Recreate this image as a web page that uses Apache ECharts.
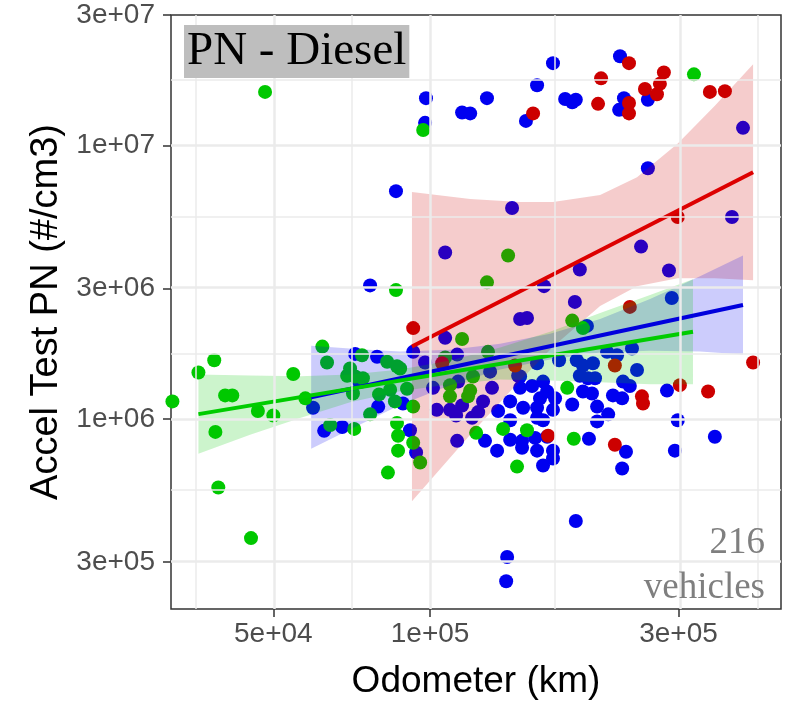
<!DOCTYPE html>
<html>
<head>
<meta charset="utf-8">
<script src="https://cdn.jsdelivr.net/npm/echarts@6/dist/echarts.min.js"></script>
<style>
  html, body { margin: 0; padding: 0; background: #fff; }
  #chart { width: 787px; height: 705px; }
</style>
</head>
<body>
<div id="chart"></div>
<script>
// odometer (km) and accel test PN (#/cm3)
const blueOdo = [98200, 115200, 119400, 97800, 86000, 106900, 76700, 128600, 172200, 160500, 152800, 181700, 187500, 190500,
  231600, 235700, 230700, 238700, 262000, 399000, 262000, 143700, 165500, 193900, 189700, 254200, 380000, 287600, 291200,
  148900, 153500, 200100, 249700, 234700, 241900, 224500, 233800, 285100, 299000, 352300, 295200, 237800, 233800, 209300,
  209300, 219800, 201900, 196600, 204600, 187500, 191300, 196600, 205500, 193900, 201000, 207400, 218700, 228600, 244200,
  176900, 160500, 147600, 148900, 157000, 164800, 167800, 162600, 173800, 142500, 150900, 160500, 172200, 135100, 142500,
  160500, 164800, 127500, 134500, 142500, 150200, 150200, 159100, 160500, 167800, 172200, 172200, 164800, 190500, 140600,
  140000, 106900, 92800, 97800, 112700, 101300, 113200, 88700, 130400, 131500, 126400, 148900, 91500, 94000, 112700,
  71800, 79100, 72800, 59600, 62600, 67800, 79500, 103000, 109200, 112200, 115200, 120400, 123700];
const bluePN = [1.49e7, 1.32e7, 1.31e7, 1.21e7, 6.81e6, 4.06e6, 3.08e6, 1.49e7, 2.00e7, 1.66e7, 1.23e7, 1.48e7, 1.44e7, 1.47e7,
  2.12e7, 1.49e7, 1.35e7, 1.34e7, 1.47e7, 1.16e7, 8.26e6, 5.91e6, 3.06e6, 3.52e6, 2.68e6, 4.27e6, 5.48e6, 3.49e6, 2.77e6,
  2.32e6, 2.34e6, 2.19e6, 1.51e6, 1.37e6, 1.32e6, 1.22e6, 1.19e6, 1.27e6, 9.9e5, 8.61e5, 7.66e5, 7.59e5, 6.59e5, 1.11e6,
  9.8e5, 1.04e6, 8.47e5, 1.26e6, 1.24e6, 1.13e6, 1.64e6, 1.57e6, 1.60e6, 1.44e6, 1.41e6, 1.41e6, 1.76e6, 1.71e6, 1.81e6,
  1.64e6, 1.60e6, 1.44e6, 1.30e6, 1.32e6, 1.37e6, 1.26e6, 1.19e6, 1.19e6, 1.16e6, 1.10e6, 1.10e6, 1.08e6, 1.07e6, 9.9e5,
  1.01e6, 9.9e5, 8.32e5, 7.66e5, 8.40e5, 8.32e5, 7.85e5, 8.53e5, 7.66e5, 8.61e5, 7.66e5, 7.17e5, 6.76e5, 4.24e5, 3.13e5,
  2.55e5, 1.98e6, 1.76e6, 1.61e6, 1.72e6, 1.30e6, 1.37e6, 1.14e6, 1.49e6, 1.30e6, 1.16e6, 1.43e6, 9.1e5, 7.54e5, 8.32e5,
  1.73e6, 1.69e6, 1.38e6, 1.10e6, 9.05e5, 9.35e5, 1.11e6, 1.08e6, 1.08e6, 1.03e6, 1.12e6, 1.01e6, 1.06e6];

const redOdo = [157700, 213000, 210200, 241000, 241000, 241000, 258600, 272700, 276300, 281200, 344600, 368300, 299000,
  241900, 226400, 417200, 301800, 341900, 255200, 256400, 226400, 92800, 105500, 145600, 168500];
const redPN = [1.31e7, 1.76e7, 1.42e7, 2.00e7, 1.43e7, 1.31e7, 1.61e7, 1.54e7, 1.68e7, 1.85e7, 1.57e7, 1.58e7, 5.48e6,
  2.57e6, 1.57e6, 1.61e6, 1.33e6, 1.26e6, 1.21e6, 1.14e6, 8.05e5, 2.15e6, 1.60e6, 1.57e6, 8.68e5];

const greenOdo = [48200, 97000, 86000, 321200, 141200, 128600, 187500, 196600, 129200, 183400, 188800, 138100, 153500,
  122600, 146900, 115200, 106900, 109200, 109200, 118300, 92800, 85600, 120900, 119400, 86400, 86800, 86800, 83000, 92800,
  95700, 32000, 35900, 38500, 40400, 41700, 38700, 46700, 50000, 54600, 57600, 39200, 45300, 62100, 63400, 64300, 71500,
  74000, 70200, 69300, 71800, 74300, 71100, 82700, 86400, 87600, 76700, 79800, 83800, 90300];
const greenPN = [1.57e7, 1.14e7, 2.96e6, 1.82e7, 3.96e6, 3.16e6, 2.29e6, 2.15e6, 1.76e6, 1.30e6, 8.47e5, 9.2e5, 9.1e5,
  8.9e5, 6.70e5, 1.96e6, 1.68e6, 1.33e6, 1.21e6, 1.21e6, 1.11e6, 1.16e6, 1.43e6, 1.27e6, 9.67e5, 8.68e5, 7.66e5, 6.37e5,
  8.19e5, 6.93e5, 1.16e6, 1.48e6, 1.64e6, 1.22e6, 1.22e6, 8.97e5, 1.07e6, 1.03e6, 1.46e6, 1.19e6, 5.62e5, 3.67e5, 1.84e6,
  1.61e6, 9.5e5, 9.2e5, 1.71e6, 1.53e6, 1.44e6, 1.43e6, 1.41e6, 1.24e6, 1.62e6, 1.56e6, 1.53e6, 1.04e6, 1.23e6, 1.28e6, 1.29e6];

// fitted lines (end points) and confidence bands
const redFitOdo = [92300, 417200];
const redFitPN = [1.84e6, 7.98e6];
const redBandOdo = [92300, 119400, 148900, 172200, 212100, 249700, 299000, 352300, 417200];
const redBandLow = [5.00e5, 8.75e5, 1.384e6, 1.839e6, 2.588e6, 3.06e6, 3.27e6, 3.27e6, 3.216e6];
const redBandHigh = [6.755e6, 6.37e6, 6.22e6, 6.22e6, 6.59e6, 7.66e6, 1.017e7, 1.396e7, 1.982e7];

const blueFitOdo = [59100, 399000];
const blueFitPN = [1.201e6, 2.61e6];
const blueBandOdo = [59100, 73400, 87600, 109200, 136300, 170000, 212100, 264500, 329900, 399000];
const blueBandLow = [7.785e5, 9.55e5, 1.124e6, 1.328e6, 1.518e6, 1.65e6, 1.749e6, 1.778e6, 1.764e6, 1.72e6];
const blueBandHigh = [1.854e6, 1.80e6, 1.764e6, 1.793e6, 1.886e6, 2.049e6, 2.322e6, 2.744e6, 3.324e6, 3.962e6];

const greenFitOdo = [35900, 319800];
const greenFitPN = [1.042e6, 2.084e6];
const greenBandOdo = [35900, 45120, 56300, 70230, 87600, 109200, 136300, 170000, 212100, 264500, 319800];
const greenBandLow = [7.47e5, 8.75e5, 1.008e6, 1.152e6, 1.263e6, 1.339e6, 1.396e6, 1.384e6, 1.362e6, 1.339e6, 1.339e6];
const greenBandHigh = [1.455e6, 1.443e6, 1.432e6, 1.455e6, 1.518e6, 1.636e6, 1.824e6, 2.084e6, 2.441e6, 2.838e6, 3.243e6];

// axes
const xTicks = [5e4, 1e5, 3e5];
const xTickLabels = ['5e+04', '1e+05', '3e+05'];
const xMinor = [35355, 70711, 173205, 424264];
const yTicks = [3e5, 1e6, 3e6, 1e7, 3e7];
const yTickLabels = ['3e+05', '1e+06', '3e+06', '1e+07', '3e+07'];
const yMinor = [5.477e5, 1.732e6, 5.477e6, 1.732e7];
const xRange = [31800, 472000];
const yRange = [2.02e5, 3.0e7];

const lg = Math.log10;
const pairs = (xs, ys) => xs.map((x, i) => [lg(x), lg(ys[i])]);
const labelFor = (ticks, labels) => (v) => {
  const i = ticks.findIndex(t => Math.abs(lg(t) - v) < 1e-6);
  return i >= 0 ? labels[i] : '';
};

const BLUE = '#0000F0', RED = '#CC0000', GREEN = '#00C800';

function scatter(xs, ys, color) {
  return { type: 'scatter', data: pairs(xs, ys), symbolSize: 14, itemStyle: { color: color, opacity: 1 }, z: 2 };
}

// confidence band drawn as one polygon through the axis scales
function band(xs, lo, hi, fill) {
  const rows = xs.map((x, i) => [lg(x), lg(lo[i]), lg(hi[i])]);
  return {
    type: 'custom',
    silent: true,
    z: 3,
    data: rows,
    encode: { x: 0, y: [1, 2] },
    renderItem: (params, api) => {
      if (params.dataIndex !== 0) return null;
      const upper = rows.map(r => api.coord([r[0], r[2]]));
      const lower = rows.map(r => api.coord([r[0], r[1]])).reverse();
      return { type: 'polygon', shape: { points: upper.concat(lower) }, style: { fill: fill } };
    }
  };
}

function fit(xs, ys, color) {
  return { type: 'line', data: pairs(xs, ys), symbol: 'none', lineStyle: { color: color, width: 4 }, z: 4 };
}

const gridColor = '#EBEBEB';
const gridLines = [].concat(
  xMinor.map(v => ({ xAxis: lg(v), lineStyle: { color: gridColor, width: 1.5, type: 'solid' } })),
  yMinor.map(v => ({ yAxis: lg(v), lineStyle: { color: gridColor, width: 1.5, type: 'solid' } })),
  xTicks.map(v => ({ xAxis: lg(v), lineStyle: { color: gridColor, width: 2.5, type: 'solid' } })),
  yTicks.map(v => ({ yAxis: lg(v), lineStyle: { color: gridColor, width: 2.5, type: 'solid' } }))
);

const noteFont = '37px "Liberation Serif"';

const chart = echarts.init(document.getElementById('chart'), null, { renderer: 'canvas' });
chart.setOption({
  animation: false,
  backgroundColor: '#fff',
  title: {
    text: 'PN - Diesel',
    left: 184,
    top: 25,
    padding: [3, 3, 3, 3],
    backgroundColor: '#BEBEBE',
    textStyle: { fontFamily: 'Liberation Serif', fontSize: 47, fontWeight: 'normal', color: '#000' }
  },
  graphic: [
    { type: 'text', right: 22, top: 525, z: 10, style: { text: '216', font: noteFont, fill: '#7F7F7F' } },
    { type: 'text', right: 22, top: 570, z: 10, style: { text: 'vehicles', font: noteFont, fill: '#7F7F7F' } }
  ],
  grid: {
    left: 171, top: 15, right: 6, bottom: 93,
    show: true, backgroundColor: '#fff', borderColor: '#333', borderWidth: 1.5
  },
  xAxis: {
    type: 'value',
    min: lg(xRange[0]),
    max: lg(xRange[1]),
    name: 'Odometer (km)',
    nameLocation: 'middle',
    nameGap: 54,
    nameTextStyle: { fontFamily: 'Liberation Sans', fontSize: 37, color: '#000' },
    axisLine: { show: false },
    splitLine: { show: false },
    axisTick: { show: true, length: 8, customValues: xTicks.map(lg), lineStyle: { color: '#333', width: 1.5 } },
    axisLabel: {
      customValues: xTicks.map(lg),
      formatter: labelFor(xTicks, xTickLabels),
      margin: 11,
      fontFamily: 'Liberation Sans', fontSize: 28, color: '#4D4D4D'
    }
  },
  yAxis: {
    type: 'value',
    min: lg(yRange[0]),
    max: lg(yRange[1]),
    name: 'Accel Test PN (#/cm3)',
    nameLocation: 'middle',
    nameGap: 101,
    nameTextStyle: { fontFamily: 'Liberation Sans', fontSize: 38, color: '#000' },
    axisLine: { show: false },
    splitLine: { show: false },
    axisTick: { show: true, length: 8, customValues: yTicks.map(lg), lineStyle: { color: '#333', width: 1.5 } },
    axisLabel: {
      customValues: yTicks.map(lg),
      formatter: labelFor(yTicks, yTickLabels),
      margin: 16,
      fontFamily: 'Liberation Sans', fontSize: 28, color: '#4D4D4D'
    }
  },
  series: [
    {
      type: 'line', data: [], z: 1,
      markLine: { silent: true, symbol: ['none', 'none'], label: { show: false }, animation: false, data: gridLines }
    },
    scatter(blueOdo, bluePN, BLUE),
    scatter(greenOdo, greenPN, GREEN),
    scatter(redOdo, redPN, RED),
    band(redBandOdo, redBandLow, redBandHigh, 'rgba(204, 0, 0, 0.2)'),
    band(blueBandOdo, blueBandLow, blueBandHigh, 'rgba(0, 0, 240, 0.2)'),
    band(greenBandOdo, greenBandLow, greenBandHigh, 'rgba(0, 200, 0, 0.2)'),
    fit(redFitOdo, redFitPN, '#DD0000'),
    fit(blueFitOdo, blueFitPN, '#0000DD'),
    fit(greenFitOdo, greenFitPN, '#00CC00')
  ]
});
</script>
</body>
</html>
